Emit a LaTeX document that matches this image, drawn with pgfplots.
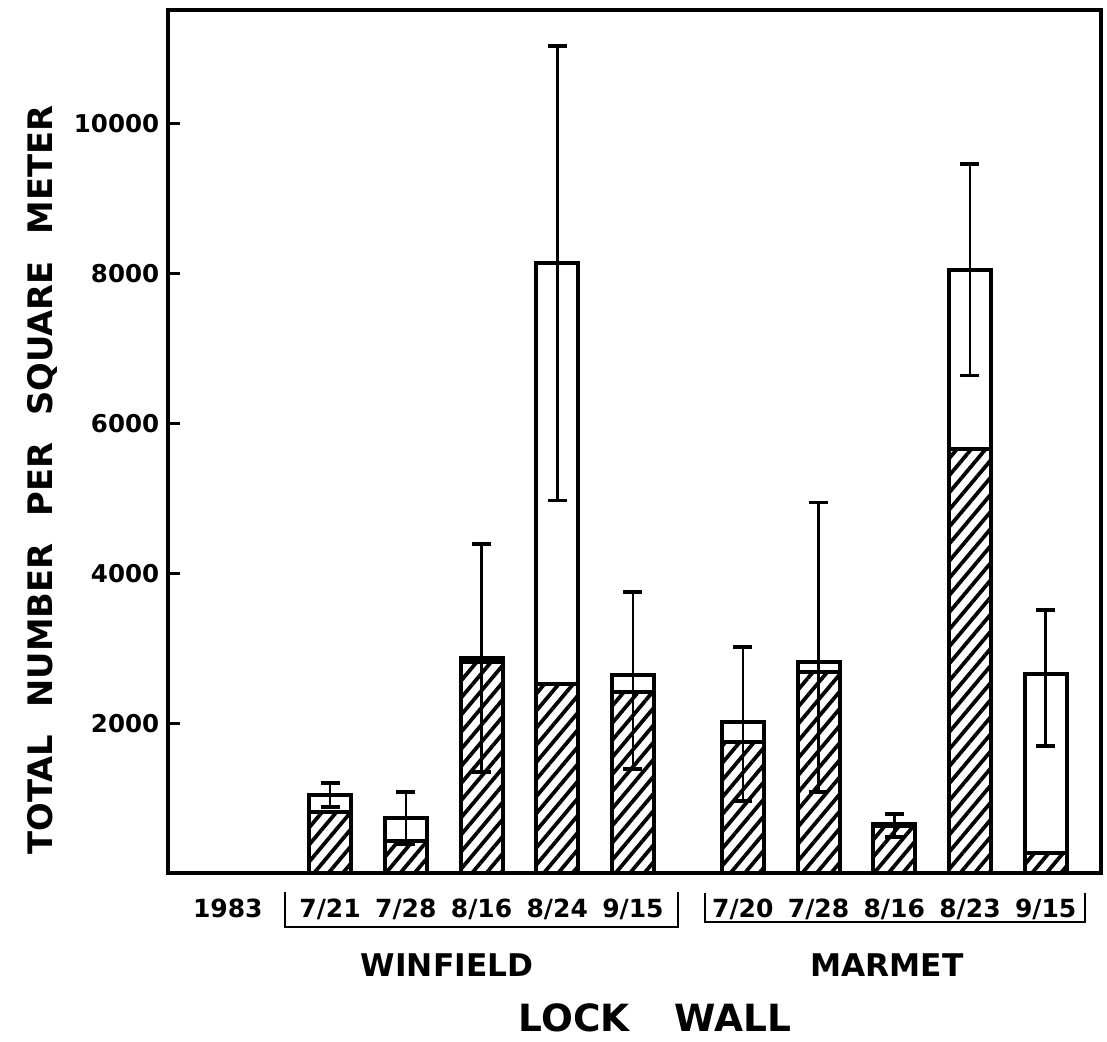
\documentclass[border=0pt]{standalone}
\usepackage{fontspec}
\setmainfont{DejaVu Sans}
\usepackage{pgfplots}
\pgfplotsset{compat=1.18}
\usetikzlibrary{patterns.meta}

\begin{document}
\begin{tikzpicture}
\useasboundingbox (-67.2pt,-67.6pt) rectangle (375.6pt,349.2pt);
\begin{axis}[
  scale only axis, width=373.2pt, height=345.2pt,
  at={(0,0)}, anchor=south west,
  xmin=-1.14, xmax=11.18, ymin=0, ymax=11520,
  axis line style={line width=1.6pt},
  ytick={2000,4000,6000,8000,10000},
  tick align=inside, major tick length=5pt,
  ytick style={line width=1.2pt, black},
  yticklabel style={font=\fontsize{9.8}{12}\selectfont\bfseries},
  /pgf/number format/assume math mode=true,
  /pgf/number format/1000 sep={},
  scaled y ticks=false,
  ytick pos=left,
  xtick={-0.35,1,2,3,4,5,6.45,7.45,8.45,9.45,10.45},
  xticklabels={1983,7/21,7/28,8/16,8/24,9/15,7/20,7/28,8/16,8/23,9/15},
  xtick style={draw=none},
  xticklabel style={font=\fontsize{10}{12}\selectfont\bfseries, yshift=-7pt},
  clip=false,
]
% total (white) bars
\addplot[ybar, bar width=16.8pt, bar shift=0pt, fill=white, draw=black, line width=1.6pt]
coordinates {(1,1040) (2,733) (3,2867) (4,8147) (5,2640) (6.45,2013) (7.45,2813) (8.45,653) (9.45,8053) (10.45,2653)};
% hatched portion
\addplot[ybar, bar width=16.8pt, bar shift=0pt, draw=black, line width=1.6pt,
  pattern={Lines[angle=50,distance=4.4pt,line width=1.5pt]}]
coordinates {(1,813) (2,427) (3,2813) (4,2520) (5,2413) (6.45,1747) (7.45,2680) (8.45,627) (9.45,5653) (10.45,267)};
% error bars
\addplot[draw=none, mark=none, forget plot, error bars/.cd, y dir=both, y explicit,
  error bar style={draw=black, line width=1pt},
  error mark options={rotate=90, mark size=3.8pt, line width=1.5pt, draw=black}]
coordinates {
 (1,1040) += (0,160) -= (0,160)
 (2,733) += (0,347) -= (0,347)
 (3,2867) += (0,1520) -= (0,1520)
 (4,8147) += (0,2893) -= (0,3174)
 (5,2640) += (0,1107) -= (0,1253)
 (6.45,2013) += (0,1000) -= (0,1053)
 (7.45,2813) += (0,2134) -= (0,1733)
 (8.45,653) += (0,134) -= (0,173)
 (9.45,8053) += (0,1414) -= (0,1413)
 (10.45,2653) += (0,854) -= (0,960)
};
\end{axis}
% brackets
\draw[line width=1pt] (46.8pt,-7.6pt) -- (46.8pt,-21.6pt) -- (204pt,-21.6pt) -- (204pt,-7.6pt);
\draw[line width=1pt] (214.8pt,-8pt) -- (214.8pt,-19.6pt) -- (366.8pt,-19.6pt) -- (366.8pt,-8pt);
\node[font=\fontsize{12.5}{15}\selectfont\bfseries] at (111.6pt,-36.8pt) {WINFIELD};
\node[font=\fontsize{12.5}{15}\selectfont\bfseries] at (287.6pt,-36.8pt) {MARMET};
\node[font=\fontsize{15}{18}\selectfont\bfseries] at (194.8pt,-58pt) {LOCK\hspace{1.2em}WALL};
\node[font=\fontsize{13.5}{16}\selectfont\bfseries, rotate=90] at (-50.4pt,157.2pt) {TOTAL\hspace{0.8em}NUMBER\hspace{0.8em}PER\hspace{0.8em}SQUARE\hspace{0.8em}METER};
\end{tikzpicture}
\end{document}
